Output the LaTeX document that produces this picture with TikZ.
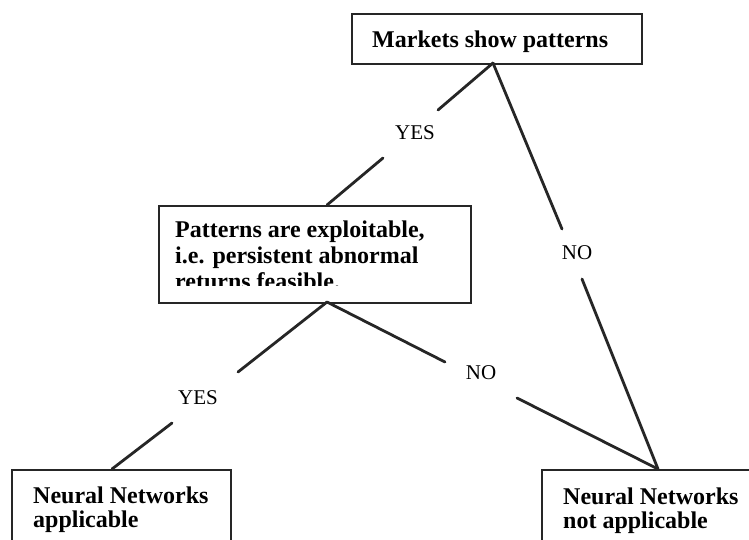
\documentclass[tikz,border=0pt]{standalone}
\usepackage{fontspec}
\setmainfont{Liberation Serif}
\begin{document}
\begin{tikzpicture}[x=1pt,y=-1pt,
  box/.style={draw=black!85, line width=2.4pt, anchor=north west, inner sep=0pt},
  btext/.style={font=\fontsize{24}{28}\selectfont\bfseries, anchor=base west, inner sep=0pt},
  lab/.style={font=\fontsize{21}{24}\selectfont, inner sep=0pt},
  conn/.style={draw=black!85, line width=2.8pt, line cap=round}]
\useasboundingbox (0,0) rectangle (749,539);
\clip (0,0) rectangle (749,539);
% boxes
\node[box, minimum width=290pt, minimum height=50pt] (top) at (351,13) {};
\node[box, minimum width=312pt, minimum height=97pt] (mid) at (158,205) {};
\node[box, minimum width=219pt, minimum height=100pt] (bl) at (11,469) {};
\node[box, minimum width=240pt, minimum height=100pt] (br) at (541,469) {};
% texts
\node[btext] (t1) at (372,47) {Markets show patterns};
\node[btext] (m1) at (175,237) {Patterns are exploitable,};
\node[btext] (m2) at (175,263) {i.e. persistent abnormal};
\begin{scope}
  \clip (160,207) rectangle (468,285);
  \node[btext] (m3) at (175,289) {returns feasible.};
\end{scope}
\node[btext] (l1) at (33,503) {Neural Networks};
\node[btext] (l2) at (33,527) {applicable};
\node[btext] (r1) at (563,504) {Neural Networks};
\node[btext] (r2) at (563,528) {not applicable};
% labels
\node[lab] (yes1) at (415,133) {YES};
\node[lab] (no1) at (577,253) {NO};
\node[lab] (yes2) at (198,398) {YES};
\node[lab] (no2) at (481,373) {NO};
% connector end points
\coordinate (pt) at (493,63);
\coordinate (pmt) at (327,205);
\coordinate (pmb) at (327,302);
\coordinate (pbl) at (112,469);
\coordinate (pbr) at (658,469);
\coordinate (a1) at (438,110);
\coordinate (b1) at (383,158);
\coordinate (a2) at (562,229);
\coordinate (b2) at (582,279);
\coordinate (a3) at (238,372);
\coordinate (b3) at (172,423);
\coordinate (a4) at (445,362);
\coordinate (b4) at (517,398);
% connectors
\draw[conn] (pt) -- (a1);
\draw[conn] (b1) -- (pmt);
\draw[conn] (pt) -- (a2);
\draw[conn] (b2) -- (pbr);
\draw[conn] (pmb) -- (a3);
\draw[conn] (b3) -- (pbl);
\draw[conn] (pmb) -- (a4);
\draw[conn] (b4) -- (pbr);
\end{tikzpicture}
\end{document}
